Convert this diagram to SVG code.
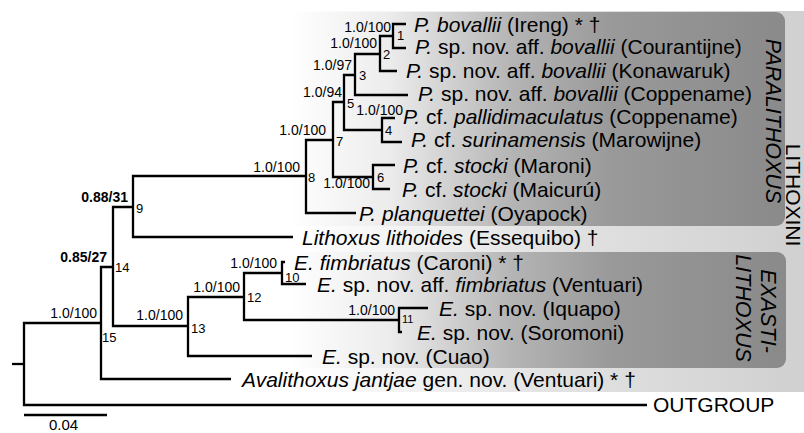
<svg xmlns="http://www.w3.org/2000/svg" width="804" height="433" viewBox="0 0 804 433">
<defs>
<linearGradient id="gOuter" gradientUnits="userSpaceOnUse" x1="230" y1="0" x2="804" y2="0">
<stop offset="0" stop-color="#ffffff"/>
<stop offset="0.12" stop-color="#ffffff"/>
<stop offset="0.55" stop-color="#e3e3e3"/>
<stop offset="1" stop-color="#d0d0d0"/>
</linearGradient>
<linearGradient id="gInner" gradientUnits="userSpaceOnUse" x1="290" y1="0" x2="786" y2="0">
<stop offset="0" stop-color="#ffffff"/>
<stop offset="0.2" stop-color="#ececec"/>
<stop offset="0.45" stop-color="#b4b4b4"/>
<stop offset="0.65" stop-color="#999999"/>
<stop offset="1" stop-color="#8a8a8a"/>
</linearGradient>
</defs>
<style>
text{font-family:"Liberation Sans",Arial,sans-serif;fill:#000}
.tx{font-size:21px}
.i{font-style:italic}
.sup{font-size:14px;text-anchor:end}
.b{font-weight:bold}
.nn{font-size:13px}
.grp{font-size:21.5px;text-anchor:middle}
.br{fill:none;stroke:#000;stroke-width:2.3;stroke-linejoin:miter;stroke-linecap:butt}
</style>
<g id="backgrounds">
<rect x="230" y="11" width="574" height="381" fill="url(#gOuter)"/>
<rect x="290" y="12" width="495" height="214" rx="9" fill="url(#gInner)"/>
<rect x="290" y="252" width="496" height="116" rx="9" fill="url(#gInner)"/>
</g>
<g id="group-labels">
<text class="grp" transform="translate(786,195) rotate(90)" style="font-size:21px">LITHOXINI</text>
<text class="grp i" transform="translate(766,121) rotate(90)">PARALITHOXUS</text>
<text class="grp i" transform="translate(761,311) rotate(90)">EXASTI-</text>
<text class="grp i" transform="translate(736,308) rotate(90)">LITHOXUS</text>
</g>
<g id="connectors" class="br">
<path d="M12 364 H24"/>
<path d="M101 323 H24 V405 H647"/>
<path d="M113 267 H101 V379 H231"/>
<path d="M133 207 H113 V326 H188"/>
<path d="M306 176 H133 V237 H293"/>
<path d="M333 140 H306 V213 H356"/>
<path d="M344 102 H333 V177 H373"/>
<path d="M355 75 H344 V130 H382"/>
<path d="M380 54 H355 V95 H408"/>
<path d="M393 36 H380 V71 H397"/>
<path d="M406 24 H393 V48 H406"/>
<path d="M395 118 H382 V142 H402"/>
<path d="M395 165 H373 V189 H390"/>
<path d="M244 297 H188 V356 H312"/>
<path d="M282 273 H244 V320 H399"/>
<path d="M285 262 H282 V284 H306"/>
<path d="M428 308 H399 V332 H402"/>
<path d="M24 415 H107"/>
</g>
<g id="taxa">
<g id="t1"><text class="tx" x="414" y="31.5"><tspan class="i">P. bovallii</tspan> (Ireng) * †</text></g>
<g id="t2"><text class="tx" x="415" y="54"><tspan class="i">P.</tspan> sp. nov. aff. <tspan class="i">bovallii</tspan> (Courantijne)</text></g>
<g id="t3"><text class="tx" x="406" y="78"><tspan class="i">P.</tspan> sp. nov. aff. <tspan class="i">bovallii</tspan> (Konawaruk)</text></g>
<g id="t4"><text class="tx" x="418" y="101"><tspan class="i">P.</tspan> sp. nov. aff. <tspan class="i">bovallii</tspan> (Coppename)</text></g>
<g id="t5"><text class="tx" x="403" y="123.5"><tspan class="i">P.</tspan> cf. <tspan class="i">pallidimaculatus</tspan> (Coppename)</text></g>
<g id="t6"><text class="tx" x="411" y="147"><tspan class="i">P.</tspan> cf. <tspan class="i">surinamensis</tspan> (Marowijne)</text></g>
<g id="t7"><text class="tx" x="403" y="172.5"><tspan class="i">P.</tspan> cf. <tspan class="i">stocki</tspan> (Maroni)</text></g>
<g id="t8"><text class="tx" x="402" y="196.5"><tspan class="i">P.</tspan> cf. <tspan class="i">stocki</tspan> (Maicurú)</text></g>
<g id="t9"><text class="tx" x="359" y="221"><tspan class="i">P. planquettei</tspan> (Oyapock)</text></g>
<g id="t10"><text class="tx" x="302" y="245"><tspan class="i">Lithoxus lithoides</tspan> (Essequibo) †</text></g>
<g id="t11"><text class="tx" x="294" y="269.5"><tspan class="i">E. fimbriatus</tspan> (Caroni) * †</text></g>
<g id="t12"><text class="tx" x="317" y="292"><tspan class="i">E.</tspan> sp. nov. aff. <tspan class="i">fimbriatus</tspan> (Ventuari)</text></g>
<g id="t13"><text class="tx" x="439" y="316"><tspan class="i">E.</tspan> sp. nov. (Iquapo)</text></g>
<g id="t14"><text class="tx" x="417" y="340"><tspan class="i">E.</tspan> sp. nov. (Soromoni)</text></g>
<g id="t15"><text class="tx" x="322" y="363.5"><tspan class="i">E.</tspan> sp. nov. (Cuao)</text></g>
<g id="t16"><text class="tx" x="242" y="387"><tspan class="i">Avalithoxus jantjae</tspan> gen. nov. (Ventuari) * †</text></g>
<g id="t17"><text class="tx" x="653" y="412">OUTGROUP</text></g>
</g>
<g id="internal-nodes">
<g id="n1"><text class="sup" x="391" y="32">1.0/100</text><text class="nn" x="397" y="40">1</text></g>
<g id="n2"><text class="sup" x="377" y="48">1.0/100</text><text class="nn" x="383" y="59">2</text></g>
<g id="n3"><text class="sup" x="352" y="70">1.0/97</text><text class="nn" x="359" y="80">3</text></g>
<g id="n5"><text class="sup" x="342" y="97">1.0/94</text><text class="nn" x="347" y="108">5</text></g>
<g id="n4"><text class="sup" x="403" y="115">1.0/100</text><text class="nn" x="385" y="135">4</text></g>
<g id="n7"><text class="sup" x="326" y="135">1.0/100</text><text class="nn" x="336" y="146">7</text></g>
<g id="n6"><text class="sup" x="370" y="188">1.0/100</text><text class="nn" x="377" y="182">6</text></g>
<g id="n8"><text class="sup" x="300" y="172">1.0/100</text><text class="nn" x="308" y="182">8</text></g>
<g id="n9"><text class="sup b" x="128" y="202">0.88/31</text><text class="nn" x="136" y="213">9</text></g>
<g id="n14"><text class="sup b" x="107" y="262">0.85/27</text><text class="nn" x="115" y="272">14</text></g>
<g id="n10"><text class="sup" x="277" y="268">1.0/100</text><text class="nn" x="285" y="282">10</text></g>
<g id="n11"><text class="sup" x="395" y="315">1.0/100</text><text class="nn" x="402" y="323" style="font-size:11px">11</text></g>
<g id="n12"><text class="sup" x="240" y="292">1.0/100</text><text class="nn" x="247" y="302">12</text></g>
<g id="n13"><text class="sup" x="183" y="320">1.0/100</text><text class="nn" x="191" y="333">13</text></g>
<g id="n15"><text class="sup" x="97" y="318">1.0/100</text><text class="nn" x="102" y="342">15</text></g>
</g>
<g id="scale"><text x="49" y="430" style="font-size:15px">0.04</text></g>
</svg>
